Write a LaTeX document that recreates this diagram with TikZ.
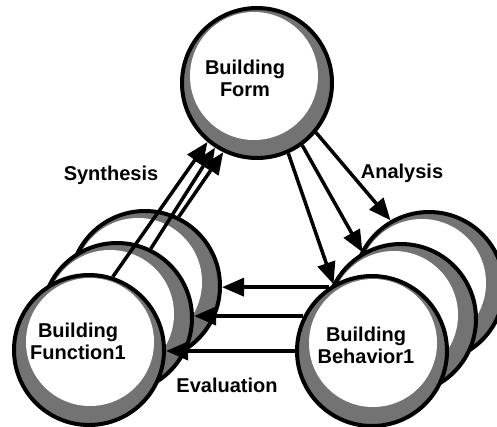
\documentclass[tikz,border=0pt]{standalone}
\usepackage{fontspec}
\setmainfont{Liberation Sans}
\usetikzlibrary{arrows.meta}
\tikzset{
  ring/.style={circle, draw=black, line width=4pt, minimum size=150pt, inner sep=0pt},
  shadefill/.style={fill=black!55},
  ballText/.style={align=center, font=\fontsize{20}{22}\selectfont\bfseries, inner sep=0pt},
  lbl/.style={font=\fontsize{20}{22}\selectfont\bfseries, inner sep=0pt},
  arr/.style={line width=3.5pt, -{Triangle[length=22pt,width=18pt]}},
}
\newcommand\myball[4]{%
  \fill[shadefill] (#2,#3) circle[radius=75pt];
  \fill[white] (#2,#3) ++(#4) circle[radius=64pt];
  \node[ring] (#1) at (#2,#3) {};
}
\begin{document}
\begin{tikzpicture}[x=1pt,y=-1pt]
\useasboundingbox (0,0) rectangle (497,426);
\clip (0,0) rectangle (497,426);
% back stacks
\myball{f3}{145}{286}{-7,-4}
\myball{f2}{117}{318}{-7,-4}
\myball{b3}{429}{287}{-7,-4}
\myball{b2}{401}{319}{-7,-4}
% front balls
\myball{f1}{89}{350}{1,-8}
\myball{b1}{372}{351}{1,-8}
\myball{form}{257}{83}{-3,-7}
% texts
\node[ballText] (formtxt) at (245,78) {Building\\Form};
\node[ballText] (f1txt) at (78,341) {Building\\Function1};
\node[ballText] (b1txt) at (366,345) {Building\\Behavior1};
\node[lbl] (syn) at (111,175) {Synthesis};
\node[lbl] (ana) at (402,173) {Analysis};
\node[lbl] (eva) at (227,385) {Evaluation};
% synthesis
\draw[arr] (f1.72) -- (form.230);
\draw[arr] (f2.64) -- (form.237);
\draw[arr] (f3.64) -- (form.244);
% analysis
\draw[arr] (form.294) -- (b1.120);
\draw[arr] (form.306) -- (b2.120);
\draw[arr] (form.320) -- (b3.120);
% evaluation
\draw[arr] (b1.124) -- (b1.124 -| f3.east);
\draw[arr] (b1.153) -- (b1.153 -| f2.east);
\draw[arr] (b1.west) -- (b1.west -| f1.east);
\end{tikzpicture}
\end{document}
